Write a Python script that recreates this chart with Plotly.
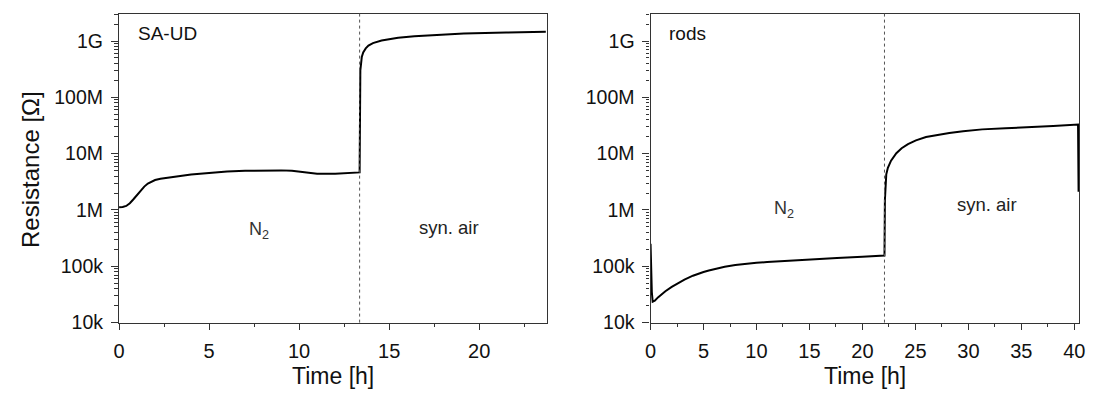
import plotly.graph_objects as go

# ---- measured resistance vs. time, SA-UD sample ----
saud_time = [0.0, 0.2, 0.4, 0.6, 0.8, 1.0, 1.2, 1.4, 1.6, 1.8, 2.0, 2.3, 2.6, 3.0,
             3.5, 4.0, 5.0, 6.0, 7.0, 8.0, 9.0, 9.6, 10.0, 10.5, 11.0, 12.0, 12.8, 13.36,
             13.40, 13.43, 13.48, 13.56, 13.7, 13.85, 14.1, 14.58, 15.0, 15.5, 16.4,
             17.8, 19.15, 21.5, 23.7]
saud_res = [1.12e6, 1.13e6, 1.18e6, 1.32e6, 1.55e6, 1.85e6, 2.2e6, 2.6e6, 2.95e6,
            3.2e6, 3.4e6, 3.58e6, 3.72e6, 3.85e6, 4.05e6, 4.25e6, 4.55e6, 4.8e6,
            4.95e6, 5.05e6, 5.05e6, 4.95e6, 4.8e6, 4.55e6, 4.42e6, 4.38e6, 4.5e6, 4.65e6,
            3.0e8, 4.2e8, 5.2e8, 6.3e8, 7.4e8, 8.3e8, 9.2e8, 1.02e9, 1.08e9, 1.14e9,
            1.22e9, 1.30e9, 1.36e9, 1.42e9, 1.46e9]

# ---- measured resistance vs. time, rods sample ----
rods_time = [0.0, 0.05, 0.12, 0.2, 0.4, 0.7, 1.0, 1.4, 2.0, 2.6, 3.2, 4.0, 4.5, 5.0,
             5.5, 6.0, 7.0, 8.0, 9.0, 10.0, 11.0, 12.9, 15.0, 17.6, 20.0, 22.08,
             22.12, 22.16, 22.25, 22.4, 22.7, 23.2, 23.7, 24.3, 25.05, 26.0, 27.0, 28.2,
             29.5, 31.3, 33.5, 35.6, 38.0, 40.35, 40.4]
rods_res = [2.5e5, 9.0e4, 3.5e4, 2.35e4, 2.45e4, 2.8e4, 3.15e4, 3.6e4, 4.3e4, 5.0e4,
            5.8e4, 6.8e4, 7.4e4, 7.9e4, 8.4e4, 8.9e4, 9.8e4, 1.05e5, 1.11e5, 1.15e5,
            1.19e5, 1.26e5, 1.33e5, 1.41e5, 1.48e5, 1.55e5,
            1.5e6, 3.0e6, 4.3e6, 5.6e6, 7.5e6, 1.02e7, 1.25e7, 1.48e7, 1.72e7, 1.97e7,
            2.15e7, 2.33e7, 2.5e7, 2.7e7, 2.83e7, 2.92e7, 3.1e7, 3.3e7, 2.1e6]

# gas switch times (N2 -> synthetic air)
saud_switch = 13.36
rods_switch = 22.08

# axis ticks
y_tickvals = [1e4, 1e5, 1e6, 1e7, 1e8, 1e9]
y_ticktext = ["10k", "100k", "1M", "10M", "100M", "1G"]
y_minor = [m * 10 ** k for k in range(4, 10) for m in range(2, 10)]
saud_xticks = [0, 5, 10, 15, 20]
rods_xticks = [0, 5, 10, 15, 20, 25, 30, 35, 40]

W, H = 1094, 401
FONT = "Arial, Liberation Sans, Helvetica, sans-serif"
AXIS_COLOR = "#333333"

# pixel layout of the two panels
left_px = (114.3, 546.7)
right_px = (651.7, 1085.0)
top_px, bottom_px = 14.0, 331.7


def fx(px):
    return px / W


def fy(py):
    return 1 - py / H


fig = go.Figure()

fig.add_trace(go.Scatter(x=saud_time, y=saud_res, mode="lines",
                         line=dict(color="black", width=2),
                         xaxis="x", yaxis="y", showlegend=False))
fig.add_trace(go.Scatter(x=rods_time, y=rods_res, mode="lines",
                         line=dict(color="black", width=2),
                         xaxis="x2", yaxis="y2", showlegend=False))

y_range = [4, 9.487]

xaxis_common = dict(
    showgrid=False, zeroline=False, showline=True, mirror=True,
    linecolor=AXIS_COLOR, linewidth=1.2,
    ticks="outside", ticklen=6, tickwidth=1, tickcolor=AXIS_COLOR,
    ticklabelstandoff=4,
    tickfont=dict(family=FONT, size=20, color="#111111"),
    minor=dict(ticks="outside", ticklen=3, tickwidth=1, tickcolor=AXIS_COLOR,
               dtick=2.5, tick0=0, showgrid=False),
)
yaxis_common = dict(
    type="log", range=y_range,
    showgrid=False, zeroline=False, showline=True, mirror=True,
    linecolor=AXIS_COLOR, linewidth=1.2,
    tickmode="array", tickvals=y_tickvals, ticktext=y_ticktext,
    ticks="outside", ticklen=7, tickwidth=1, tickcolor=AXIS_COLOR,
    ticklabelstandoff=4,
    tickfont=dict(family=FONT, size=19.5, color="#111111"),
    minor=dict(ticks="outside", ticklen=3.5, tickwidth=1, tickcolor=AXIS_COLOR,
               tickmode="array", tickvals=y_minor, showgrid=False),
)

fig.update_layout(
    width=W, height=H,
    margin=dict(l=0, r=0, t=0, b=0),
    paper_bgcolor="white", plot_bgcolor="white",
    font=dict(family=FONT, color="#111111"),
    xaxis=dict(domain=[fx(left_px[0]), fx(left_px[1])], range=[0, 23.75],
               tickmode="array", tickvals=saud_xticks, anchor="y", **xaxis_common),
    yaxis=dict(domain=[fy(bottom_px), fy(top_px)], anchor="x", **yaxis_common),
    xaxis2=dict(domain=[fx(right_px[0]), fx(right_px[1])], range=[0, 40.45],
                tickmode="array", tickvals=rods_xticks, anchor="y2", **xaxis_common),
    yaxis2=dict(domain=[fy(bottom_px), fy(top_px)], anchor="x2", **yaxis_common),
)

# dotted lines marking the gas switch
for xref, yref, t in (("x", "y domain", saud_switch), ("x2", "y2 domain", rods_switch)):
    fig.add_shape(type="line", xref=xref, yref=yref, x0=t, x1=t, y0=0, y1=1,
                  line=dict(color="#555555", width=1, dash="dot"))


def label(text, xref, yref, x, y, size=18.5, color="#111111", xanchor="center"):
    fig.add_annotation(text=text, xref=xref, yref=yref, x=x, y=y, showarrow=False,
                       xanchor=xanchor, yanchor="middle",
                       font=dict(family=FONT, size=size, color=color))


# panel labels and gas annotations (paper coordinates)
label("SA-UD", "paper", "paper", fx(131), fy(34), size=19, xanchor="left")
label("rods", "paper", "paper", fx(668), fy(34), size=19, xanchor="left")
label("N<sub>2</sub>", "paper", "paper", fx(256), fy(237), size=18, color="#333333")
label("N<sub>2</sub>", "paper", "paper", fx(787), fy(215), size=18, color="#333333")
label("syn. air", "paper", "paper", fx(448), fy(234), size=18.5, color="#222222")
label("syn. air", "paper", "paper", fx(992), fy(210), size=18.5, color="#222222")

# axis titles
label("Time [h]", "paper", "paper", fx(330.5), fy(387), size=23)
label("Time [h]", "paper", "paper", fx(869), fy(387), size=23)
fig.add_annotation(text="Resistance [Ω]", xref="paper", yref="paper",
                   x=fx(24), y=fy(174), showarrow=False, textangle=-90,
                   xanchor="center", yanchor="middle",
                   font=dict(family=FONT, size=24, color="#111111"))

fig.write_html("out.html")
